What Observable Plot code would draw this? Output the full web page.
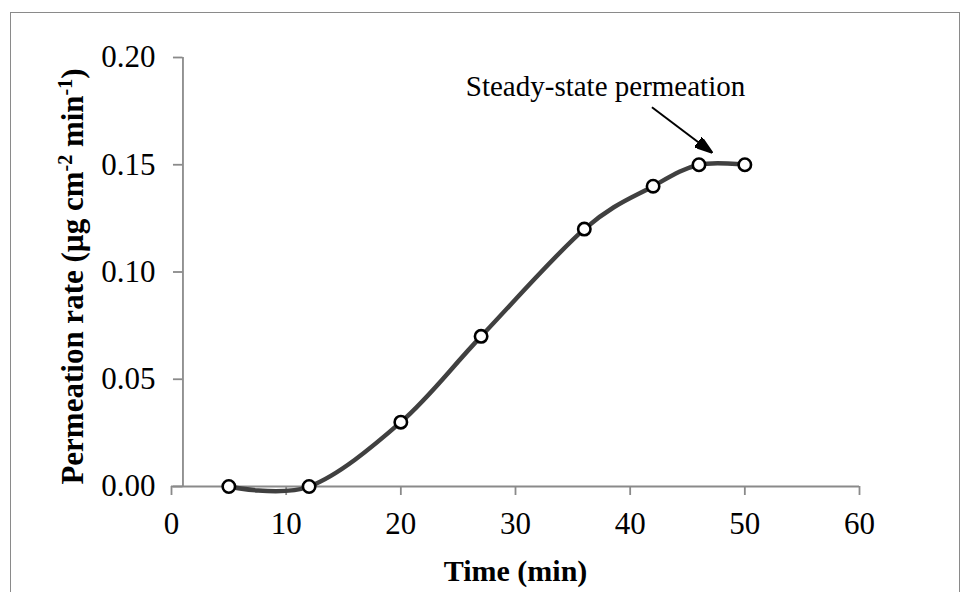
<!DOCTYPE html>
<html>
<head>
<meta charset="utf-8">
<script src="https://cdn.jsdelivr.net/npm/d3@7"></script>
<script src="https://cdn.jsdelivr.net/npm/@observablehq/plot@0.6"></script>
<style>
  html, body { margin: 0; padding: 0; background: #fff; }
  #chart { position: relative; width: 963px; height: 592px; overflow: hidden; }
  #chart .frame { position: absolute; left: 10px; top: 12px; width: 950px; height: 640px;
                  border: 1.5px solid #8a8a8a; box-sizing: border-box; }
  #chart svg { position: absolute; left: 0; top: 0; }
</style>
</head>
<body>
<div id="chart"><div class="frame"></div></div>
<script>
// Permeation rate measured over time
const times = [5, 12, 20, 27, 36, 42, 46, 50];            // min
const rates = [0, 0, 0.03, 0.07, 0.12, 0.14, 0.15, 0.15];  // µg cm-2 min-1

const xTicks = [0, 10, 20, 30, 40, 50, 60];
const yTicks = [0, 0.05, 0.10, 0.15, 0.20];
const yAxisCross = 1; // the vertical axis crosses the time axis at 1 min

const xTitle = "Time (min)";
const yTitleParts = ["Permeation rate (µg cm", "-2", " min", "-1", ")"]; // odd entries are superscripts
const yTitle = yTitleParts.join("");

// annotation pointing at the plateau
const noteLabel = ["Steady-state permeation"];
const noteX = [37.85], noteY = [0.182];
const arrowX = [41.9, 47.1], arrowY = [0.1768, 0.1558];

const points = times.map((t, i) => ({t, r: rates[i]}));
const note = noteLabel.map((label, i) => ({label, x: noteX[i], y: noteY[i]}));
const arrow = [{x1: arrowX[0], y1: arrowY[0], x2: arrowX[1], y2: arrowY[1]}];

const serif = "'Liberation Serif', 'Times New Roman', serif";
const axisGray = "#8a8a8a";

// solid triangular arrow head
const arrowHead = (color) => d3.create("svg:marker")
  .attr("viewBox", "0 -6 18 12")
  .attr("markerUnits", "userSpaceOnUse")
  .attr("markerWidth", 18)
  .attr("markerHeight", 12)
  .attr("refX", 17)
  .attr("refY", 0)
  .attr("orient", "auto")
  .call((m) => m.append("path").attr("d", "M0,-6L18,0L0,6Z").attr("fill", color))
  .node();

const chart = Plot.plot({
  width: 963,
  height: 592,
  marginLeft: 171,
  marginRight: 104,
  marginTop: 57,
  marginBottom: 106,
  style: {fontFamily: serif, background: "transparent", color: "#000"},
  x: {domain: [0, 60], ticks: xTicks},
  y: {domain: [0, 0.2], ticks: yTicks},
  marks: [
    // axes lines and tick marks
    Plot.ruleY([0], {stroke: axisGray, strokeWidth: 1.8}),
    Plot.ruleX([yAxisCross], {y1: 0, y2: 0.2, stroke: axisGray, strokeWidth: 1.8}),
    Plot.ruleY(yTicks, {x1: yAxisCross, x2: yAxisCross, insetLeft: -9.5, stroke: axisGray, strokeWidth: 1.8}),
    Plot.axisX(xTicks, {tickSize: 9, tickPadding: 16, fontSize: 31, stroke: axisGray, strokeWidth: 1.8,
                        fill: "#000", label: null}),
    Plot.axisY(yTicks, {tickSize: 0, tickPadding: 16, fontSize: 31, tickFormat: ".2f", fill: "#000", label: null}),
    // axis titles
    Plot.text([xTitle], {text: (d) => d, frameAnchor: "bottom", dy: 94, lineAnchor: "bottom", textAnchor: "middle",
                         fontSize: 30, fontWeight: "bold", fill: "#000"}),
    Plot.text([yTitle], {text: (d) => d, frameAnchor: "left", rotate: -90, dx: -89, dy: 4.5,
                         lineAnchor: "bottom", textAnchor: "middle",
                         fontSize: 31, fontWeight: "bold", fill: "#000"}),
    // smoothed series and markers
    Plot.line(points, {x: "t", y: "r", curve: "cardinal", stroke: "#404040", strokeWidth: 4.5}),
    Plot.dot(points, {x: "t", y: "r", r: 6.2, fill: "white", stroke: "#000", strokeWidth: 2.6}),
    // annotation
    Plot.link(arrow, {x1: "x1", y1: "y1", x2: "x2", y2: "y2", stroke: "#000", strokeWidth: 2, markerEnd: arrowHead}),
    Plot.text(note, {x: "x", y: "y", text: "label", fontSize: 29, lineAnchor: "bottom", fill: "#000"})
  ]
});

// superscripts in the vertical axis title
d3.select(chart).selectAll("text")
  .filter(function () { return this.textContent === yTitle; })
  .each(function () {
    const t = d3.select(this);
    t.text(null);
    yTitleParts.forEach((part, i) => {
      const sup = i % 2 === 1;
      t.append("tspan")
        .attr("font-size", sup ? 20 : null)
        .attr("dy", sup ? -11 : (i > 0 ? 11 : null))
        .text(part);
    });
  });

document.getElementById("chart").appendChild(chart);
</script>
</body>
</html>
